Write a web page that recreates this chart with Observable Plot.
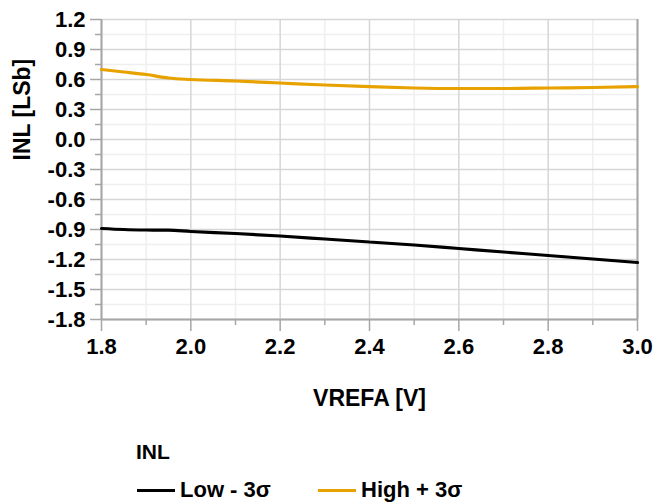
<!DOCTYPE html>
<html>
<head>
<meta charset="utf-8">
<script src="https://cdn.jsdelivr.net/npm/d3@7"></script>
<script src="https://cdn.jsdelivr.net/npm/@observablehq/plot@0.6"></script>
<style>
  body { margin: 0; background: white; }
  #wrap { position: relative; width: 655px; height: 503px; font-family: "Liberation Sans", Arial, sans-serif; font-weight: bold; color: #000; }
  #legend-title { position: absolute; left: 136px; top: 440px; font-size: 21px; }
  .leg { position: absolute; top: 477px; font-size: 22px; display: flex; align-items: center; white-space: nowrap; }
  .sw { display: inline-block; width: 38px; height: 3px; margin-right: 5px; }
</style>
</head>
<body>
<div id="wrap"></div>
<script>
// ---- data ----
const vrefa   = [1.8, 1.85, 1.9, 1.95, 2.0, 2.1, 2.2, 2.3, 2.4, 2.5, 2.6, 2.7, 2.8, 2.9, 3.0];
const lowInl  = [-0.89, -0.90, -0.905, -0.907, -0.92, -0.94, -0.965, -0.995, -1.025, -1.055, -1.09, -1.125, -1.16, -1.195, -1.23];
const highInl = [0.70, 0.675, 0.65, 0.615, 0.60, 0.585, 0.565, 0.545, 0.528, 0.515, 0.51, 0.51, 0.515, 0.52, 0.528];
const seriesNames = ["Low - 3σ", "High + 3σ"];
const seriesColors = ["#000000", "#e8a200"];
const xTicks = [1.8, 2.0, 2.2, 2.4, 2.6, 2.8, 3.0];
const xMinor = [1.9, 2.1, 2.3, 2.5, 2.7, 2.9];
const yTicks = [-1.8, -1.5, -1.2, -0.9, -0.6, -0.3, 0.0, 0.3, 0.6, 0.9, 1.2];
const yMinor = [-1.65, -1.35, -1.05, -0.75, -0.45, -0.15, 0.15, 0.45, 0.75, 1.05];
const xTitle = "VREFA [V]";
const yTitle = "INL [LSb]";
const legendTitle = "INL";

const rows = [];
vrefa.forEach((v, i) => {
  rows.push({x: v, y: lowInl[i], s: seriesNames[0]});
  rows.push({x: v, y: highInl[i], s: seriesNames[1]});
});

const fmt = d => d.toFixed(1);
const axisCol = "#a6a6a6";

const chart = Plot.plot({
  width: 655,
  height: 420,
  marginTop: 19,
  marginBottom: 101,
  marginLeft: 101,
  marginRight: 18,
  style: {fontFamily: "Liberation Sans, Arial, sans-serif", fontSize: "22px", fontWeight: "bold", background: "white", overflow: "visible"},
  x: {domain: [1.8, 3.0], label: null},
  y: {domain: [-1.8, 1.2], label: null},
  color: {domain: seriesNames, range: seriesColors},
  marks: [
    Plot.gridX(xMinor, {stroke: "#efefef", strokeOpacity: 1, strokeWidth: 1.5}),
    Plot.gridY(yMinor, {stroke: "#efefef", strokeOpacity: 1, strokeWidth: 1.5}),
    Plot.gridX(xTicks, {stroke: "#d6d6d6", strokeOpacity: 1, strokeWidth: 1.5}),
    Plot.gridY(yTicks, {stroke: "#d6d6d6", strokeOpacity: 1, strokeWidth: 1.5}),
    Plot.ruleX([3.0], {stroke: axisCol, strokeWidth: 2}),
    Plot.ruleX([1.8], {stroke: axisCol, strokeWidth: 2}),
    Plot.ruleY([-1.8], {stroke: axisCol, strokeWidth: 2}),
    Plot.axisX(xMinor, {tickSize: 6, tickFormat: () => "", stroke: axisCol, strokeWidth: 1.5, label: null}),
    Plot.axisY(yMinor, {tickSize: 6, tickFormat: () => "", stroke: axisCol, strokeWidth: 1.5, label: null}),
    Plot.axisX(xTicks, {tickSize: 12, tickPadding: 7, tickFormat: fmt, stroke: axisCol, strokeWidth: 1.5, fill: "black", fontSize: 22, fontWeight: "bold", label: null}),
    Plot.axisY(yTicks, {tickSize: 11, tickPadding: 5, tickFormat: fmt, stroke: axisCol, strokeWidth: 1.5, fill: "black", fontSize: 22, fontWeight: "bold", label: null}),
    Plot.line(rows, {x: "x", y: "y", stroke: "s", strokeWidth: 3.2, curve: "monotone-x"}),
    Plot.text([xTitle], {frameAnchor: "bottom", dy: 86, text: d => d, fontSize: 23, fontWeight: "bold", fill: "black"}),
    Plot.text([yTitle], {frameAnchor: "left", dx: -79, dy: -9, rotate: -90, text: d => d, fontSize: 23, fontWeight: "bold", fill: "black"})
  ]
});

const wrap = document.getElementById("wrap");
wrap.appendChild(chart);

const lt = document.createElement("div");
lt.id = "legend-title";
lt.textContent = legendTitle;
wrap.appendChild(lt);

const legLefts = [137, 318];
seriesNames.forEach((n, i) => {
  const d = document.createElement("div");
  d.className = "leg";
  d.style.left = legLefts[i] + "px";
  const sw = document.createElement("span");
  sw.className = "sw";
  sw.style.background = seriesColors[i];
  d.appendChild(sw);
  d.appendChild(document.createTextNode(n));
  wrap.appendChild(d);
});
</script>
</body>
</html>
